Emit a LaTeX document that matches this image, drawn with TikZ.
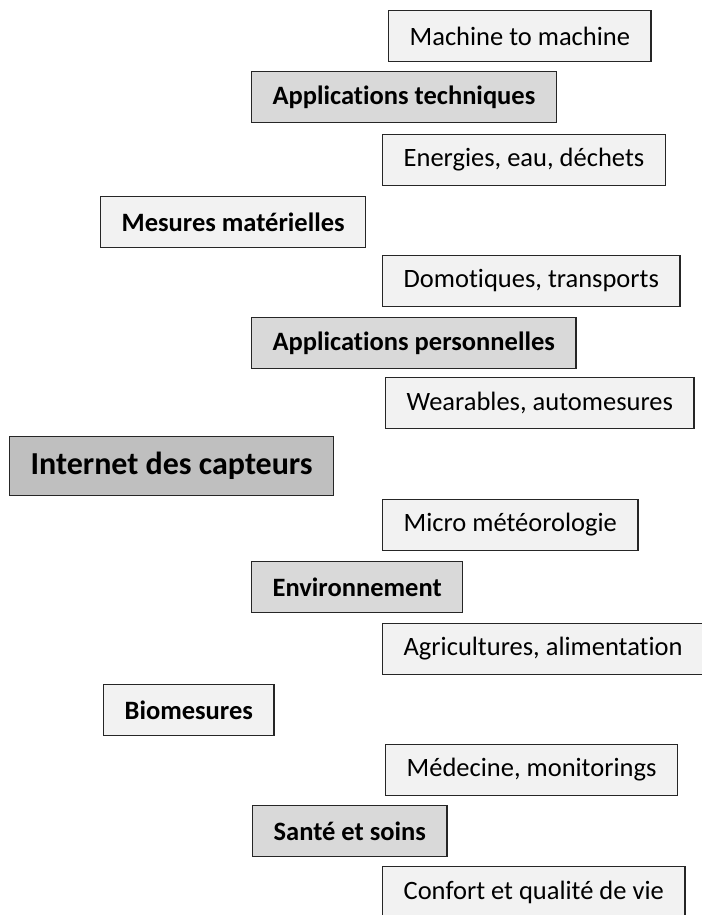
\documentclass[tikz,border=0pt]{standalone}
\usepackage{fontspec}
\setmainfont{Carlito}[Ligatures=CommonOff]
\definecolor{leaffill}{HTML}{F2F2F2}
\definecolor{midfill}{HTML}{D9D9D9}
\definecolor{rootfill}{HTML}{BFBFBF}
\tikzstyle{every node}=[align=center]
\tikzstyle{basebox}=[draw=black!85, line width=1.3pt, anchor=west, minimum height=51pt, inner xsep=21pt, font=\fontsize{26.5}{30}\selectfont]
\tikzstyle{leafbox}=[basebox, fill=leaffill]
\tikzstyle{areabox}=[basebox, fill=midfill, font=\fontsize{26.5}{30}\selectfont\bfseries]
\tikzstyle{measurebox}=[basebox, fill=leaffill, font=\fontsize{26.5}{30}\selectfont\bfseries]
\tikzstyle{rootbox}=[basebox, fill=rootfill, minimum height=59pt, font=\fontsize{32}{36}\selectfont\bfseries]

\begin{document}
\begin{tikzpicture}[x=1pt, y=-1pt]
\useasboundingbox (0,0) rectangle (701,915);

\node[leafbox] (m2m) at (388,36) {Machine to machine};
\node[areabox] (apptech) at (251,97) {Applications techniques};
\node[leafbox] (energies) at (382,160) {Energies, eau, déchets};
\node[measurebox] (mesmat) at (100,222) {Mesures matérielles};
\node[leafbox] (domo) at (382,281) {Domotiques, transports};
\node[areabox] (appperso) at (251,343) {Applications personnelles};
\node[leafbox] (wear) at (385,403) {Wearables, automesures};

\node[rootbox] (capteurs) at (9,466) {Internet des capteurs};

\node[leafbox] (micro) at (382,525) {Micro météorologie};
\node[areabox] (env) at (251,587) {Environnement};
\node[leafbox] (agri) at (382,649) {Agricultures, alimentation};
\node[measurebox] (bio) at (103,710) {Biomesures};
\node[leafbox] (med) at (385,770) {Médecine, monitorings};
\node[areabox] (sante) at (252,831) {Santé et soins};
\node[leafbox] (confort) at (382,892) {Confort et qualité de vie};

\end{tikzpicture}
\end{document}
